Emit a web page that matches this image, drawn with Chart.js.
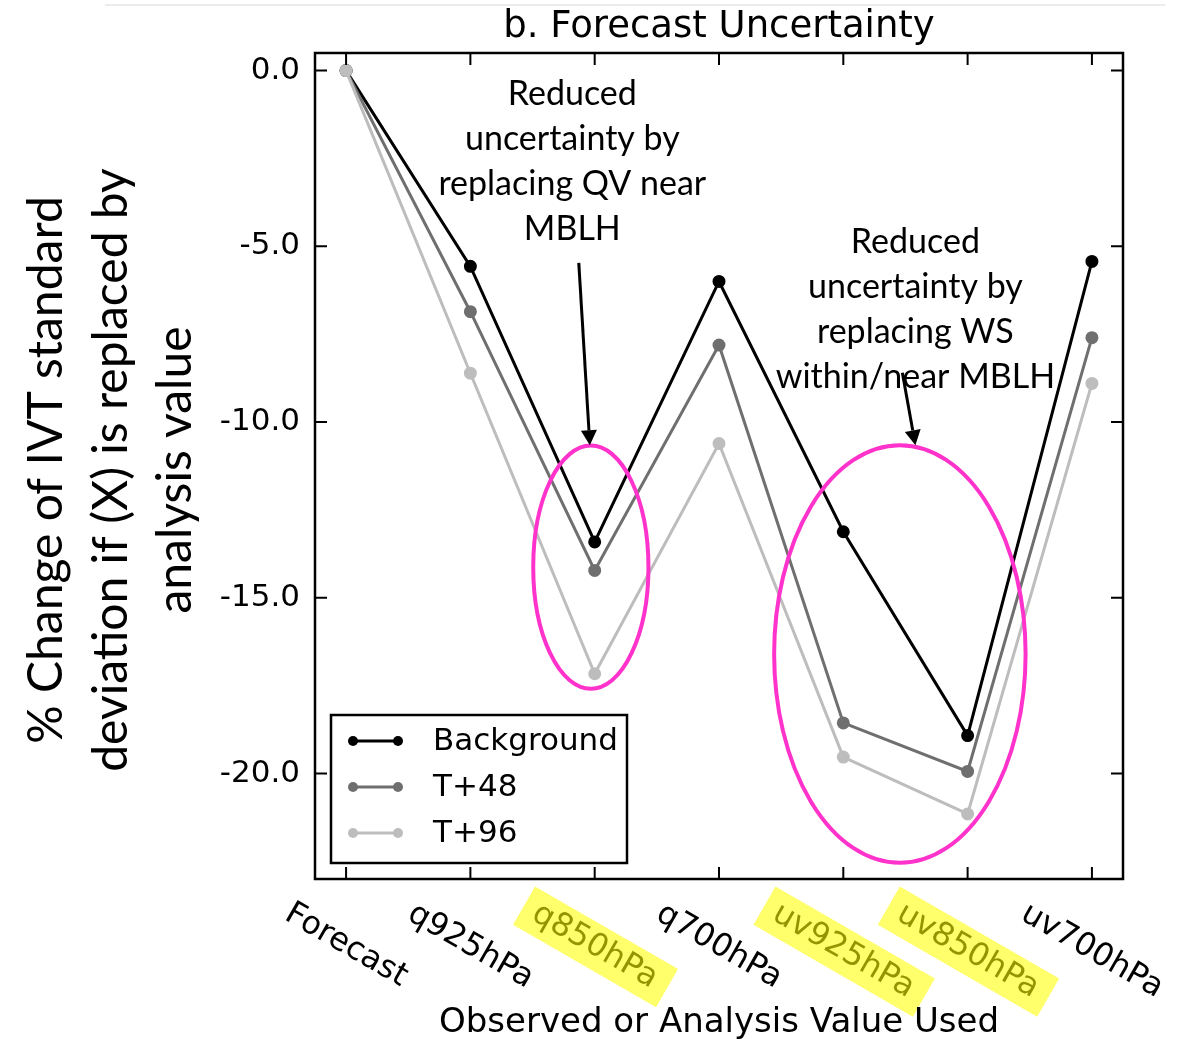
<!DOCTYPE html>
<html>
<head>
<meta charset="utf-8">
<title>b. Forecast Uncertainty</title>
<script src="https://cdn.jsdelivr.net/npm/chart.js@4.4.1/dist/chart.umd.min.js"></script>
<style>
  html, body { margin: 0; padding: 0; background: #fff; }
  #wrap { position: relative; width: 1184px; height: 1039px; }
</style>
</head>
<body>
<div id="wrap"><canvas id="chart" width="1184" height="1039"></canvas></div>
<script>
/* ── Data ── */
const categories     = ['Forecast', 'q925hPa', 'q850hPa', 'q700hPa', 'uv925hPa', 'uv850hPa', 'uv700hPa'];
const backgroundVals = [0, -5.57, -13.41, -6.00, -13.12, -18.92, -5.43];
const t48Vals        = [0, -6.86, -14.22, -7.81, -18.56, -19.94, -7.60];
const t96Vals        = [0, -8.61, -17.16, -10.61, -19.53, -21.15, -8.90];
const yTicks         = [0, -5, -10, -15, -20];
const highlighted    = ['q850hPa', 'uv925hPa', 'uv850hPa'];

// annotations, anchored in data units (x = category index, y = % change)
const noteQV   = ['Reduced', 'uncertainty by', 'replacing QV near', 'MBLH'];
const noteWS   = ['Reduced', 'uncertainty by', 'replacing WS', 'within/near MBLH'];
const notes    = [ { lines: noteQV, x: 1.82, y: -0.97 }, { lines: noteWS, x: 4.58, y: -5.19 } ];
const arrows   = [ { from: [1.872, -5.47], to: [1.961, -10.66] }, { from: [4.475, -8.60], to: [4.580, -10.66] } ];
const ellipses = [ { x: 1.969, y: -14.13, rx: 0.4635, ry: 3.46 }, { x: 4.455, y: -16.60, rx: 1.0115, ry: 5.94 } ];

const yTitle = ['% Change of IVT standard', 'deviation if (X) is replaced by', 'analysis value'];
const xTitle = 'Observed or Analysis Value Used';

const toXY = vals => vals.map((v, i) => ({ x: i, y: v }));
const SANS = '"DejaVu Sans", sans-serif';
const PINK = '#ff33cc';

/* ── Custom drawing: frame, ticks, rotated labels, notes, legend ── */
const decor = {
  id: 'decor',
  afterDraw(chart) {
    const { ctx, chartArea: a } = chart;
    const xs = chart.scales.x, ys = chart.scales.y;
    const px = v => xs.getPixelForValue(v), py = v => ys.getPixelForValue(v);
    ctx.save();

    // faint rule at the very top
    ctx.strokeStyle = '#ececec'; ctx.lineWidth = 2;
    ctx.beginPath(); ctx.moveTo(105, 5); ctx.lineTo(1165, 5); ctx.stroke();

    // inward ticks on all four sides
    ctx.strokeStyle = '#000'; ctx.lineWidth = 2;
    categories.forEach((c, i) => {
      const x = px(i);
      ctx.beginPath();
      ctx.moveTo(x, a.bottom); ctx.lineTo(x, a.bottom - 12);
      ctx.moveTo(x, a.top);    ctx.lineTo(x, a.top + 12);
      ctx.stroke();
    });
    yTicks.forEach(v => {
      const y = py(v);
      ctx.beginPath();
      ctx.moveTo(a.left, y);  ctx.lineTo(a.left + 12, y);
      ctx.moveTo(a.right, y); ctx.lineTo(a.right - 12, y);
      ctx.stroke();
    });
    ctx.lineWidth = 2.5;
    ctx.strokeRect(a.left, a.top, a.right - a.left, a.bottom - a.top);

    // x tick labels, rotated 30° clockwise, centred under each tick
    ctx.font = '32px ' + SANS;
    ctx.textAlign = 'center'; ctx.textBaseline = 'middle';
    const ang = Math.PI / 6, h = 36;
    categories.forEach((c, i) => {
      const w = ctx.measureText(c).width;
      const H = w * Math.sin(ang) + h * Math.cos(ang);
      const cx = px(i), cy = a.bottom + 17 + H / 2;
      ctx.save();
      ctx.translate(cx, cy); ctx.rotate(ang);
      ctx.fillStyle = '#000';
      ctx.fillText(c, 0, 0);
      if (highlighted.includes(c)) {
        ctx.fillStyle = 'rgba(255,255,0,0.58)';
        ctx.fillRect(-w / 2 - 12, -22, w + 26, 44);
      }
      ctx.restore();
    });

    // x axis title
    ctx.fillStyle = '#000';
    ctx.font = '34px ' + SANS;
    ctx.textBaseline = 'alphabetic';
    ctx.fillText(xTitle, (a.left + a.right) / 2, 1032);

    // y axis title (three lines, rotated)
    ctx.save();
    ctx.font = '48px Lato, sans-serif';
    const f = Math.min(1, 613 / ctx.measureText(yTitle[1]).width);
    ctx.translate(0, 470); ctx.rotate(-Math.PI / 2);
    ctx.scale(f, 1);
    ctx.textBaseline = 'middle';
    [47, 112, 176].forEach((x, k) => ctx.fillText(yTitle[k], 0, x));
    ctx.restore();

    // pink ellipses
    ctx.strokeStyle = PINK; ctx.lineWidth = 4;
    ellipses.forEach(e => {
      const cx = px(e.x), cy = py(e.y);
      const rx = Math.abs(px(e.x + e.rx) - cx), ry = Math.abs(py(e.y - e.ry) - cy);
      ctx.beginPath(); ctx.ellipse(cx, cy, rx, ry, 0, 0, Math.PI * 2); ctx.stroke();
    });

    // arrows
    ctx.strokeStyle = '#000'; ctx.fillStyle = '#000'; ctx.lineWidth = 3;
    arrows.forEach(ar => {
      const x0 = px(ar.from[0]), y0 = py(ar.from[1]);
      const x1 = px(ar.to[0]),   y1 = py(ar.to[1]);
      const t = Math.atan2(y1 - y0, x1 - x0), L = 15, W = 8;
      const bx = x1 - L * Math.cos(t), by = y1 - L * Math.sin(t);
      ctx.beginPath(); ctx.moveTo(x0, y0); ctx.lineTo(bx, by); ctx.stroke();
      ctx.beginPath();
      ctx.moveTo(x1, y1);
      ctx.lineTo(bx + W * Math.sin(t), by - W * Math.cos(t));
      ctx.lineTo(bx - W * Math.sin(t), by + W * Math.cos(t));
      ctx.closePath(); ctx.fill();
    });

    // annotation text
    ctx.font = '34px Lato, sans-serif';
    ctx.textAlign = 'center'; ctx.textBaseline = 'alphabetic';
    notes.forEach(n => {
      n.lines.forEach((ln, k) => ctx.fillText(ln, px(n.x), py(n.y) + k * 45));
    });

    // legend box, lower left inside the axes
    const lx = a.left + 16, lw = 296, lh = 148, ly = a.bottom - 16 - lh;
    ctx.fillStyle = '#fff';
    ctx.fillRect(lx, ly, lw, lh);
    ctx.strokeStyle = '#000'; ctx.lineWidth = 2.5;
    ctx.strokeRect(lx, ly, lw, lh);
    ctx.font = '31px ' + SANS;
    ctx.textAlign = 'left'; ctx.textBaseline = 'middle';
    chart.data.datasets.forEach((ds, k) => {
      const yy = ly + 26 + k * 46;
      ctx.strokeStyle = ds.borderColor; ctx.fillStyle = ds.borderColor; ctx.lineWidth = 3;
      ctx.beginPath(); ctx.moveTo(lx + 22, yy); ctx.lineTo(lx + 67, yy); ctx.stroke();
      [lx + 22, lx + 67].forEach(cx => { ctx.beginPath(); ctx.arc(cx, yy, 5, 0, Math.PI * 2); ctx.fill(); });
      ctx.fillStyle = '#000';
      ctx.fillText(ds.label, lx + 102, yy + 1);
    });

    ctx.restore();
  }
};

const series = [
  { label: 'Background', data: toXY(backgroundVals), color: '#000000', order: 2 },
  { label: 'T+48',       data: toXY(t48Vals),        color: '#6f6f6f', order: 1 },
  { label: 'T+96',       data: toXY(t96Vals),        color: '#bdbdbd', order: 0 },
];

new Chart(document.getElementById('chart'), {
  type: 'line',
  data: {
    datasets: series.map(s => ({
      label: s.label,
      data: s.data,
      order: s.order,
      borderColor: s.color,
      backgroundColor: s.color,
      pointBackgroundColor: s.color,
      pointBorderColor: s.color,
      borderWidth: 3,
      pointRadius: 5,
      pointHoverRadius: 5,
      tension: 0,
      fill: false,
    }))
  },
  options: {
    responsive: false,
    animation: false,
    events: [],
    layout: { padding: { left: 0, top: 0, right: 61, bottom: 160 } },
    plugins: {
      legend: { display: false },
      tooltip: { enabled: false },
      title: {
        display: true,
        fullSize: false,
        text: 'b. Forecast Uncertainty',
        color: '#000',
        font: { family: SANS, size: 37, weight: 'normal', lineHeight: 1.2 },
        padding: { top: 5, bottom: 3.6 }
      }
    },
    scales: {
      x: { type: 'linear', display: false, min: -0.25, max: 6.25 },
      y: {
        type: 'linear',
        min: -23, max: 0.5,
        afterBuildTicks: sc => { sc.ticks = yTicks.map(v => ({ value: v })); },
        afterFit: sc => { sc.width = 315; },
        grid: { display: false, drawTicks: false },
        border: { display: false },
        ticks: {
          color: '#000',
          padding: 15,
          font: { family: SANS, size: 31 },
          callback: v => v.toFixed(1)
        }
      }
    }
  },
  plugins: [decor]
});
</script>
</body>
</html>
